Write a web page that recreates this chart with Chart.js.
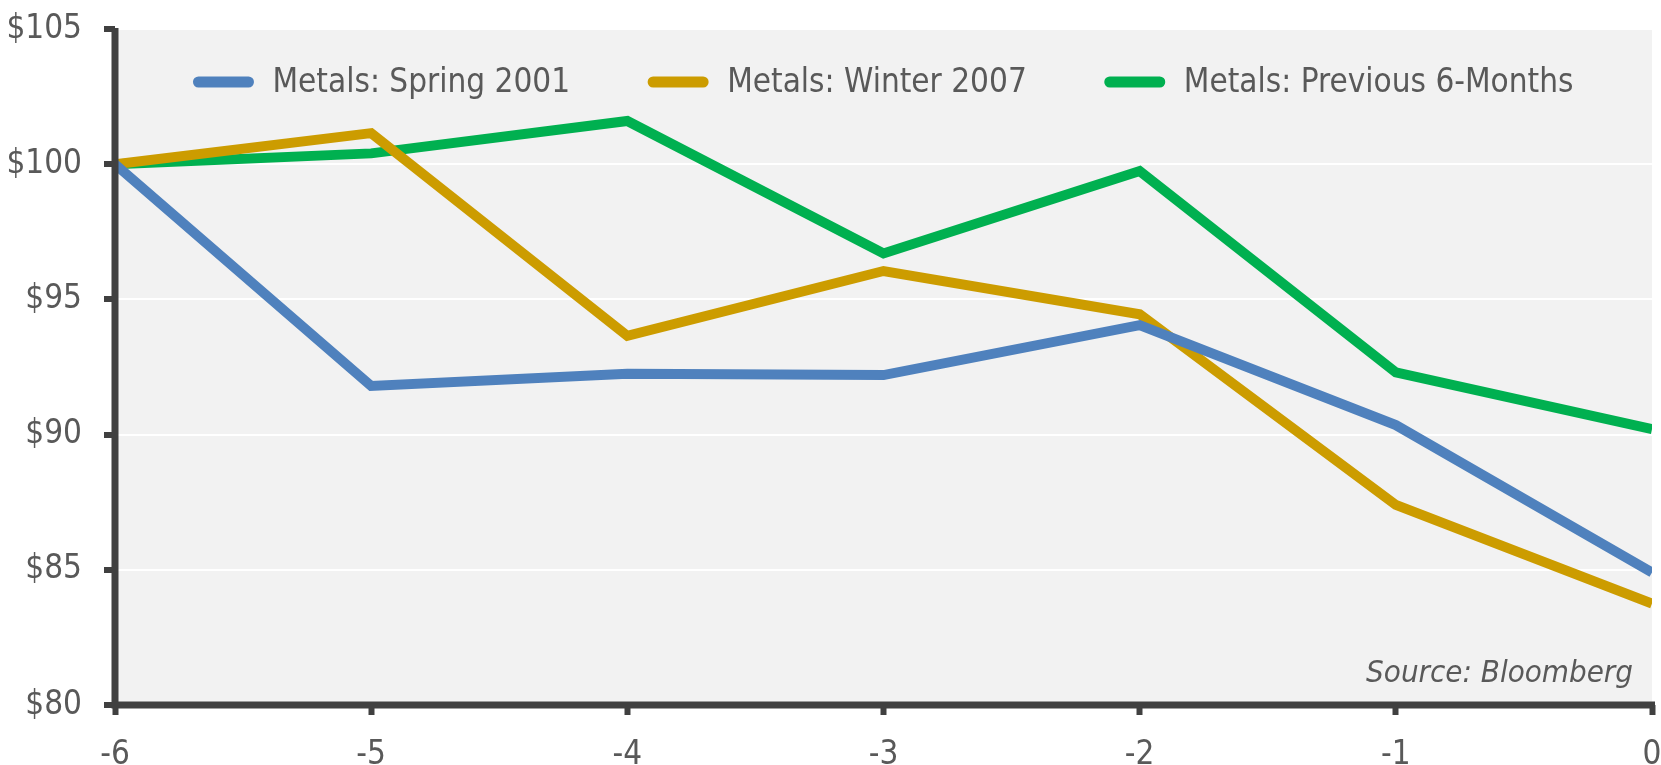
<!DOCTYPE html>
<html>
<head>
<meta charset="utf-8">
<script src="https://cdn.jsdelivr.net/npm/chart.js@4.4.0/dist/chart.umd.min.js"></script>
<style>
  html, body { margin: 0; padding: 0; background: #fff; }
  #wrap { width: 1661px; height: 765px; }
</style>
</head>
<body>
<div id="wrap"><canvas id="myChart" width="1661" height="765"></canvas></div>
<script>
// months before now
var months = [-6, -5, -4, -3, -2, -1, 0]
var spring2001 = [100, 91.8, 92.25, 92.2, 94.05, 90.35, 84.9]
var winter2007 = [100, 101.15, 93.65, 96.05, 94.45, 87.4, 83.75]
var prev6m = [100, 100.4, 101.6, 96.7, 99.75, 92.3, 90.2]
var seriesNames = ["Metals: Spring 2001", "Metals: Winter 2007", "Metals: Previous 6-Months"]
var seriesColors = ["#4f81bd", "#cc9c00", "#00b050"]
var yTicks = [80, 85, 90, 95, 100, 105]

var fontFam = "'Liberation Sans Narrow', 'DejaVu Sans Condensed', sans-serif"
var axisColor = "#404040"
var textColor = "#595959"
var fs = 33

function pts(vals) {
    return months.map((m, i) => ({ x: m, y: vals[i] }))
}

let allSeries = [spring2001, winter2007, prev6m]
let datasets = allSeries.map((s, i) => ({
    label: seriesNames[i],
    data: pts(s),
    borderColor: seriesColors[i],
    backgroundColor: seriesColors[i],
    borderWidth: 10,
    pointRadius: 0,
    tension: 0,
    borderJoinStyle: 'miter'
}))

// grey plot background, axis lines over the data, legend inside the plot, source note
const decor = {
    id: 'decor',
    beforeDraw(chart) {
        let a = chart.chartArea, ctx = chart.ctx
        ctx.save()
        ctx.fillStyle = "#f2f2f2"
        ctx.fillRect(a.left, a.top, a.right - a.left, a.bottom - a.top)
        ctx.restore()
    },
    afterDatasetsDraw(chart) {
        let a = chart.chartArea, ctx = chart.ctx
        ctx.save()
        ctx.strokeStyle = axisColor
        ctx.lineWidth = 7
        ctx.beginPath()
        ctx.moveTo(a.left, a.top - 1)
        ctx.lineTo(a.left, a.bottom + 3.5)
        ctx.moveTo(a.left - 3.5, a.bottom)
        ctx.lineTo(a.right + 3, a.bottom)
        ctx.stroke()

        // legend
        ctx.font = fs + "px " + fontFam
        ctx.textBaseline = "middle"
        ctx.textAlign = "left"
        let lineLen = 60, gapIn = 19, gapOut = 78
        let ds = chart.data.datasets
        let widths = ds.map(d => ctx.measureText(d.label).width)
        let total = widths.reduce((p, w) => p + w + lineLen + gapIn, 0) + gapOut * (ds.length - 1)
        let x = (a.left + a.right) / 2 - total / 2
        let y = a.top + 53
        ds.forEach((d, i) => {
            ctx.strokeStyle = d.borderColor
            ctx.lineWidth = 11
            ctx.lineCap = "round"
            ctx.beginPath()
            ctx.moveTo(x + 5, y)
            ctx.lineTo(x + lineLen - 5, y)
            ctx.stroke()
            ctx.fillStyle = textColor
            ctx.fillText(d.label, x + lineLen + gapIn, y + 1)
            x += lineLen + gapIn + widths[i] + gapOut
        })

        ctx.fillStyle = textColor
        ctx.font = "italic 31px " + fontFam
        ctx.textAlign = "right"
        ctx.textBaseline = "alphabetic"
        ctx.fillText("Source: Bloomberg", a.right - 19, a.bottom - 23)
        ctx.restore()
    }
}

new Chart("myChart", {
    type: "line",
    data: { datasets: datasets },
    plugins: [decor],
    options: {
        responsive: false,
        animation: false,
        layout: { padding: { top: 29, right: 9, left: 0, bottom: 0 } },
        plugins: {
            legend: { display: false },
            tooltip: { enabled: false }
        },
        scales: {
            x: {
                type: 'linear',
                min: -6,
                max: 0,
                afterFit(s) { s.height = 60; s.paddingLeft = 0; s.paddingRight = 0 },
                ticks: {
                    stepSize: 1,
                    color: textColor,
                    font: { family: fontFam, size: fs },
                    padding: 21,
                    maxRotation: 0
                },
                border: { display: false },
                grid: {
                    drawOnChartArea: false,
                    drawTicks: true,
                    tickLength: 10,
                    tickWidth: 6,
                    tickColor: axisColor
                }
            },
            y: {
                min: 80,
                max: 105,
                afterBuildTicks(s) { s.ticks = yTicks.map(v => ({ value: v })) },
                afterFit(s) { s.width = 115; s.paddingTop = 0; s.paddingBottom = 0 },
                ticks: {
                    color: textColor,
                    font: { family: fontFam, size: fs },
                    padding: 22,
                    callback: (v) => "$" + v
                },
                border: { display: false },
                grid: {
                    color: "#ffffff",
                    lineWidth: 2,
                    drawTicks: true,
                    tickLength: 11,
                    tickWidth: 6,
                    tickColor: axisColor
                }
            }
        }
    }
});
</script>
</body>
</html>
